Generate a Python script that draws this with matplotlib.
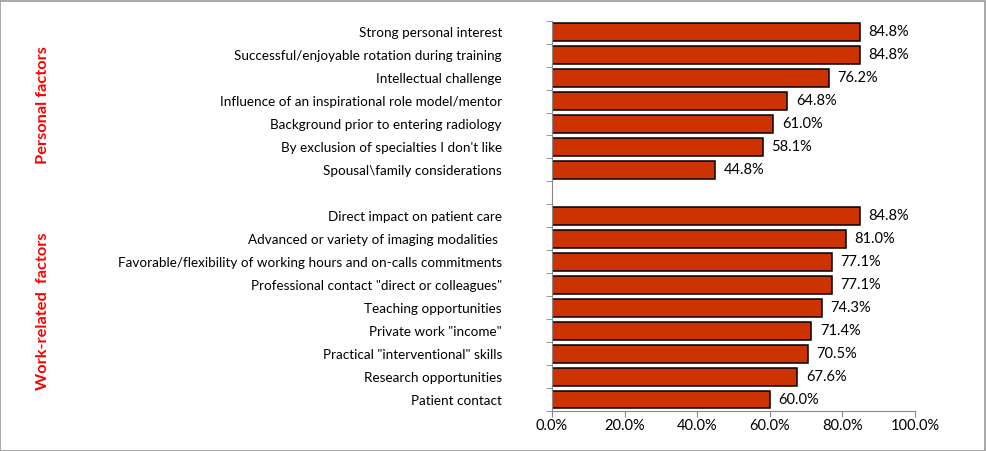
import matplotlib
matplotlib.use('Agg')
import matplotlib.pyplot as plt
import numpy as np
from matplotlib.patches import Rectangle
from matplotlib.ticker import MultipleLocator, FixedLocator, PercentFormatter

plt.rcParams['font.family'] = ['Lato', 'DejaVu Sans']

# data
personal_labels = ['Strong personal interest',
                   'Successful/enjoyable rotation during training',
                   'Intellectual challenge',
                   'Influence of an inspirational role model/mentor',
                   'Background prior to entering radiology',
                   "By exclusion of specialties I don't like",
                   'Spousal\\family considerations']
personal_values = [84.8, 84.8, 76.2, 64.8, 61.0, 58.1, 44.8]

work_labels = ['Direct impact on patient care',
               'Advanced or variety of imaging modalities ',
               'Favorable/flexibility of working hours and on-calls commitments',
               'Professional contact "direct or colleagues"',
               'Teaching opportunities',
               'Private work "income"',
               'Practical "interventional" skills',
               'Research opportunities',
               'Patient contact']
work_values = [84.8, 81.0, 77.1, 77.1, 74.3, 71.4, 70.5, 67.6, 60.0]

labels = personal_labels + [''] + work_labels
values = personal_values + [np.nan] + work_values
ypos = np.arange(len(labels))

fig = plt.figure(figsize=(9.86, 4.51), dpi=100)
ax = fig.add_axes([0.5598, 0.0887, 0.3682, 0.8654])

bar_color = '#CC3300'
ax.barh(ypos, values, height=0.78, color=bar_color, edgecolor='black', linewidth=1.1)
for y, v in zip(ypos, values):
    if np.isnan(v):
        continue
    ax.text(v + 2.4, y, f'{v:.1f}%', va='center', ha='left', fontsize=10.5)

ax.set_xlim(0, 100)
ax.set_ylim(len(labels) - 0.5, -0.5)
ax.xaxis.set_major_locator(MultipleLocator(20))
ax.xaxis.set_major_formatter(PercentFormatter(decimals=1))
ax.set_yticks(ypos)
ax.set_yticklabels(labels, fontsize=9.7)
ax.yaxis.set_minor_locator(FixedLocator(np.arange(-0.5, len(labels), 1.0)))
ax.tick_params(axis='y', which='major', length=0, pad=36)
ax.tick_params(axis='y', which='minor', length=4, direction='out', color='#888888')
ax.tick_params(axis='x', length=4, color='#888888', labelsize=10.5, pad=1.5)

for s in ['top', 'right']:
    ax.spines[s].set_visible(False)
for s in ['left', 'bottom']:
    ax.spines[s].set_color('#888888')

fig.text(0.044, 1 - 105 / 451, 'Personal factors', rotation=90, color='#FF0000',
         fontsize=11.8, fontweight='bold', ha='center', va='center')
fig.text(0.044, 1 - 311 / 451, 'Work-related  factors', rotation=90, color='#FF0000',
         fontsize=11.8, fontweight='bold', ha='center', va='center')

fig.add_artist(Rectangle((0.0005, 0.001), 0.998, 0.997, transform=fig.transFigure,
                         fill=False, edgecolor='#999999', linewidth=1.2))

fig.savefig('out.png', dpi=100)
